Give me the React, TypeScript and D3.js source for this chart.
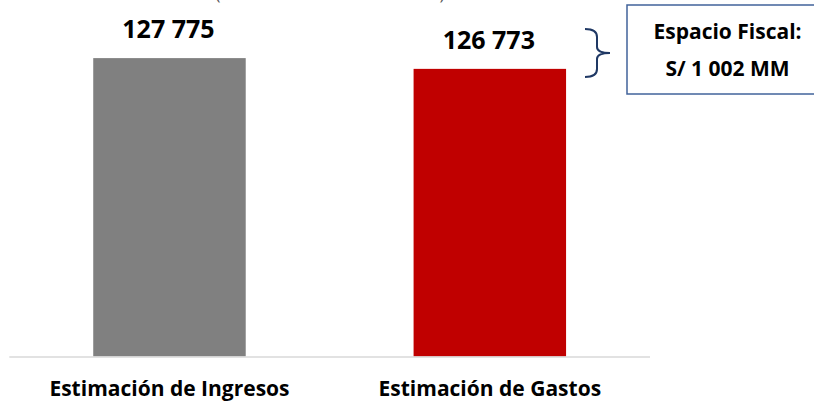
import React, { useEffect, useRef } from 'react';
import * as d3 from 'd3';

// chart data
const categories = ['Estimación de Ingresos', 'Estimación de Gastos'];
const values = [127775, 126773];
const barColors = ['#808080', '#c00000'];
const valueLabels = ['127 775', '126 773'];
const subtitle = '(En millones de soles)';
const noteLines = ['Espacio Fiscal:', 'S/ 1 002 MM'];
const yDomain = [100000, 130000];

const width = 814;
const height = 401;
const plot = { left: 9.3, right: 650, top: 34.2, bottom: 356.5 };
const font = '"Open Sans", "Noto Sans", sans-serif';

export default function App() {
  const ref = useRef<SVGSVGElement>(null);

  useEffect(() => {
    const svg = d3.select(ref.current);
    svg.selectAll('*').remove();

    const x = d3.scaleBand<string>().domain(categories).range([plot.left, plot.right]).padding(0);
    const y = d3.scaleLinear().domain(yDomain).range([plot.bottom, plot.top]);
    const barW = x.bandwidth() * 0.476;

    // subtitle, mostly above the top edge
    svg
      .append('text')
      .attr('x', 330)
      .attr('y', 0)
      .attr('text-anchor', 'middle')
      .attr('font-family', font)
      .attr('font-size', 17)
      .attr('fill', '#595959')
      .attr('textLength', 229)
      .text(subtitle);

    const g = svg.append('g');

    g.selectAll('rect.bar')
      .data(categories)
      .enter()
      .append('rect')
      .attr('class', 'bar')
      .attr('x', d => (x(d) as number) + (x.bandwidth() - barW) / 2)
      .attr('width', barW)
      .attr('y', (d, i) => y(values[i]))
      .attr('height', (d, i) => y(yDomain[0]) - y(values[i]))
      .attr('fill', (d, i) => barColors[i]);

    // baseline
    g.append('line')
      .attr('x1', plot.left)
      .attr('x2', plot.right)
      .attr('y1', y(yDomain[0]) + 0.5)
      .attr('y2', y(yDomain[0]) + 0.5)
      .attr('stroke', '#d9d9d9')
      .attr('stroke-width', 1.5);

    // value labels
    g.selectAll('text.val')
      .data(categories)
      .enter()
      .append('text')
      .attr('class', 'val')
      .attr('x', d => (x(d) as number) + x.bandwidth() / 2 - 1)
      .attr('y', (d, i) => y(values[i]) - 20)
      .attr('text-anchor', 'middle')
      .attr('font-family', font)
      .attr('font-weight', 700)
      .attr('font-size', 25)
      .attr('fill', '#000')
      .text((d, i) => valueLabels[i]);

    // category labels
    g.selectAll('text.cat')
      .data(categories)
      .enter()
      .append('text')
      .attr('class', 'cat')
      .attr('x', d => (x(d) as number) + x.bandwidth() / 2)
      .attr('y', 396)
      .attr('text-anchor', 'middle')
      .attr('font-family', font)
      .attr('font-weight', 700)
      .attr('font-size', 21)
      .attr('fill', '#000')
      .text(d => d);

    // brace between the two bar tops
    const bx = 585;
    const top = 29;
    const bot = 77;
    const mid = (top + bot) / 2;
    const brace = d3.path();
    brace.moveTo(bx, top);
    brace.quadraticCurveTo(bx + 12, top, bx + 12, top + 8);
    brace.lineTo(bx + 12, mid - 6);
    brace.quadraticCurveTo(bx + 12, mid, bx + 25, mid);
    brace.quadraticCurveTo(bx + 12, mid, bx + 12, mid + 6);
    brace.lineTo(bx + 12, bot - 8);
    brace.quadraticCurveTo(bx + 12, bot, bx, bot);
    svg
      .append('path')
      .attr('d', brace.toString())
      .attr('fill', 'none')
      .attr('stroke', '#1f3864')
      .attr('stroke-width', 2);

    // note box
    svg
      .append('rect')
      .attr('x', 627)
      .attr('y', 5)
      .attr('width', 201)
      .attr('height', 89)
      .attr('fill', '#fff')
      .attr('stroke', '#41639b')
      .attr('stroke-width', 1.5);

    svg
      .selectAll('text.note')
      .data(noteLines)
      .enter()
      .append('text')
      .attr('class', 'note')
      .attr('x', 727.5)
      .attr('y', (d, i) => 39 + i * 37)
      .attr('text-anchor', 'middle')
      .attr('font-family', font)
      .attr('font-weight', 700)
      .attr('font-size', 21)
      .attr('fill', '#000')
      .text(d => d);
  }, []);

  return (
    <svg
      ref={ref}
      width={width}
      height={height}
      style={{ position: 'absolute', left: 0, top: 0, background: '#fff' }}
    />
  );
}
